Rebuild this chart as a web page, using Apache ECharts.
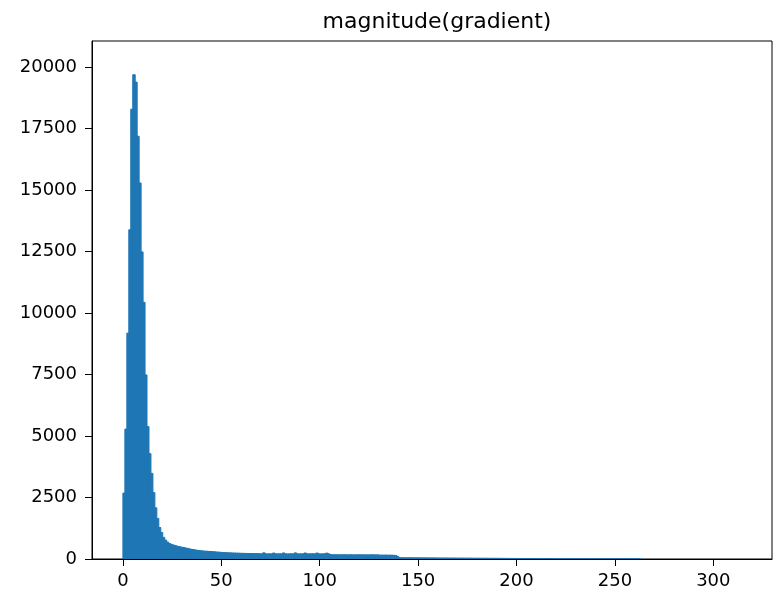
<!DOCTYPE html>
<html><head><meta charset="utf-8">
<script src="https://cdn.jsdelivr.net/npm/echarts@6/dist/echarts.min.js"></script>
<style>html,body{margin:0;padding:0;background:#fff}#c{width:774px;height:593px}</style>
</head><body><div id="c"></div>
<script>
const chartTitle = 'magnitude(gradient)';
const binStart = 0;
const binWidth = 1;
const peakCounts = [2700, 5300, 9200, 13400, 18300, 19700, 19400, 17200, 15300, 12500, 10450, 7500,
  5400, 4300, 3500, 2720, 2100, 1670, 1300, 1100, 900, 790, 710, 650, 615, 590, 565, 540, 520, 505];
const shoulderCounts = [490, 470, 455, 435, 415, 405, 390, 375, 365, 355, 345, 340, 335, 330, 325, 318, 312, 305, 298, 292,
  286, 280, 276, 272, 268, 265, 262, 260, 256, 253, 250, 248, 246, 244, 243, 241, 240, 238, 236];
const plateauCounts = [232, 228, 270, 230, 226, 231, 229, 262, 233, 227, 230, 228, 266, 231, 225, 229, 232, 227, 268, 230,
  228, 226, 231, 264, 229, 227, 230, 233, 225, 261, 229, 226, 228, 230, 258, 227,
  195, 192, 190, 194, 189, 191, 188, 193, 190, 187, 192, 189, 186, 190, 188, 191, 187, 189, 185, 188, 186, 190, 187, 185, 188,
  175, 178, 176, 180, 174, 177, 173, 170, 165, 120];
const tailCounts = [72, 70, 71, 69, 70, 68, 69, 67, 68, 66, 67, 66, 66, 64, 65, 63, 64, 63, 63, 61,
  62, 60, 61, 60, 60, 58, 59, 58, 58, 57, 57, 56, 56, 55, 55, 54, 54, 53, 53, 52,
  52, 51, 51, 50, 50, 49, 49, 48, 48, 47, 47, 46, 46, 45, 45, 44, 44, 43, 43, 42,
  42, 41, 41, 40, 40, 39, 39, 38, 38, 37, 37, 36, 36, 35, 35, 34, 34, 33, 33, 32,
  30, 0, 35, 28, 0, 32, 30, 40, 0, 33, 28, 36, 0, 30, 34, 29, 38, 0, 31, 27,
  35, 0, 30, 33, 28, 0, 36, 29, 31, 0, 34, 27, 30, 0, 28, 32, 0, 26, 30, 0, 25, 28, 20];
const counts = peakCounts.concat(shoulderCounts, plateauCounts, tailCounts);
const xTicks = [0, 50, 100, 150, 200, 250, 300];
const yTicks = [0, 2500, 5000, 7500, 10000, 12500, 15000, 17500, 20000];
const xRange = [-15.7, 329.8];
const yRange = [0, 21050];

const data = counts.map((c, i) => [binStart + i * binWidth, binStart + (i + 1) * binWidth, c]);
const font = 'DejaVu Sans';
const barColor = '#1f77b4';
const chart = echarts.init(document.getElementById('c'));
chart.setOption({
  animation: false,
  backgroundColor: '#fff',
  title: {
    text: chartTitle, left: 432, top: 6, textAlign: 'center',
    textStyle: { fontFamily: font, fontSize: 22, fontWeight: 'normal', color: '#000' }
  },
  grid: { left: 92, right: 2, top: 41, bottom: 34, show: true, borderColor: '#000', borderWidth: 1, backgroundColor: 'transparent' },
  xAxis: {
    type: 'value', min: xRange[0], max: xRange[1],
    axisLine: { show: true, onZero: false, lineStyle: { color: '#000', width: 1 } },
    axisTick: { show: true, inside: false, length: 7, customValues: xTicks, lineStyle: { color: '#000' } },
    axisLabel: { customValues: xTicks, color: '#000', fontSize: 18, fontFamily: font, margin: 13, formatter: v => String(v) },
    splitLine: { show: false }
  },
  yAxis: {
    type: 'value', min: yRange[0], max: yRange[1],
    axisLine: { show: true, onZero: false, lineStyle: { color: '#000', width: 1 } },
    axisTick: { show: true, inside: false, length: 7, customValues: yTicks, lineStyle: { color: '#000' } },
    axisLabel: { customValues: yTicks, color: '#000', fontSize: 18, fontFamily: font, margin: 15, formatter: v => String(v) },
    splitLine: { show: false }
  },
  series: [{
    type: 'custom',
    clip: true,
    encode: { x: [0, 1], y: 2 },
    data: data,
    renderItem: function (params, api) {
      const p0 = api.coord([api.value(0), 0]);
      const p1 = api.coord([api.value(1), api.value(2)]);
      return {
        type: 'rect',
        shape: { x: p0[0], y: p1[1] + 0.5, width: p1[0] - p0[0] + 0.5, height: p0[1] - p1[1] - 0.5 },
        style: { fill: barColor, stroke: barColor, lineWidth: 1 },
        emphasisDisabled: true
      };
    }
  }]
});
</script>
</body></html>
